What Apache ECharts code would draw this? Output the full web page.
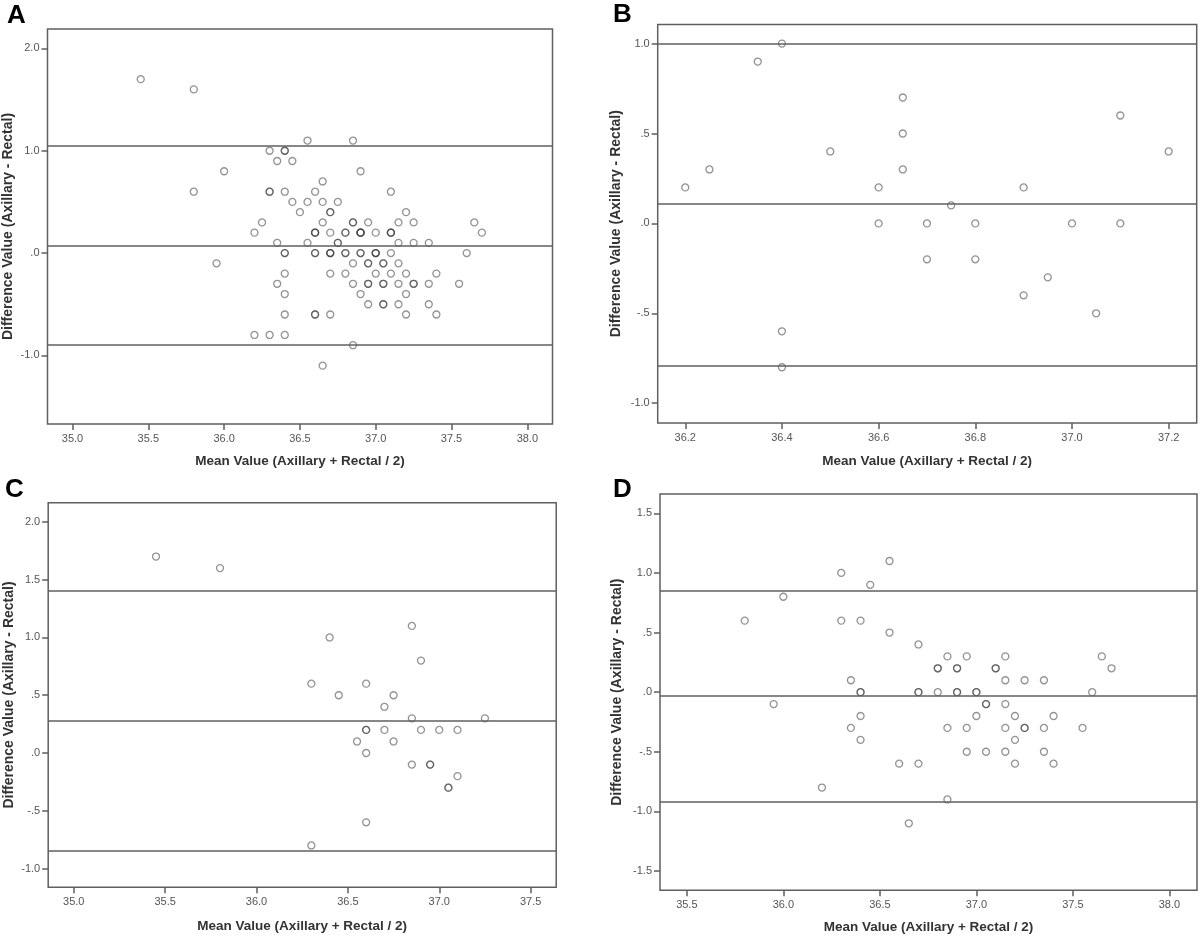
<!DOCTYPE html>
<html>
<head>
<meta charset="utf-8">
<script src="https://cdn.jsdelivr.net/npm/echarts@6/dist/echarts.min.js"></script>
<style>
html,body{margin:0;padding:0;background:#fff;}
#chart{width:1200px;height:937px;}
</style>
</head>
<body>
<div id="chart"></div>
<script>
// ---- Panel B data ----
var bX = [36.2, 36.25, 36.35, 36.4, 36.4, 36.4, 36.5, 36.6, 36.6, 36.65, 36.65, 36.65, 36.7, 36.7, 36.75, 36.8, 36.8, 36.9, 36.9, 36.95, 37.0, 37.05, 37.1, 37.1, 37.2];
var bY = [0.2, 0.3, 0.9, 1.0, -0.6, -0.8, 0.4, 0.2, 0.0, 0.7, 0.5, 0.3, 0.0, -0.2, 0.1, 0.0, -0.2, 0.2, -0.4, -0.3, 0.0, -0.5, 0.6, 0.0, 0.4];
// ---- Panel C data ----
var cX = [35.45, 35.8, 36.4, 36.3, 36.45, 36.3, 36.6, 36.6, 36.6, 36.55, 36.6, 36.6, 36.7, 36.7, 36.75, 36.75, 36.85, 36.85, 36.85, 36.9, 36.9, 37.0, 36.95, 36.95, 37.05, 37.05, 37.1, 37.1, 37.25];
var cY = [1.7, 1.6, 1.0, 0.6, 0.5, -0.8, 0.6, 0.2, 0.2, 0.1, 0.0, -0.6, 0.4, 0.2, 0.5, 0.1, 1.1, 0.3, -0.1, 0.8, 0.2, 0.2, -0.1, -0.1, -0.3, -0.3, 0.2, -0.2, 0.3];
// ---- Panel D data ----
var dX = [35.8, 35.95, 36.0, 36.2, 36.3, 36.3, 36.35, 36.35, 36.4, 36.4, 36.4, 36.4, 36.4, 36.45, 36.55, 36.55, 36.6, 36.65, 36.7, 36.7, 36.7, 36.7, 36.8, 36.8, 36.8, 36.85, 36.85, 36.85, 36.9, 36.9, 36.9, 36.9, 36.95, 36.95, 36.95, 37.0, 37.0, 37.0, 37.05, 37.05, 37.05, 37.1, 37.1, 37.15, 37.15, 37.15, 37.15, 37.15, 37.2, 37.2, 37.2, 37.25, 37.25, 37.25, 37.35, 37.35, 37.35, 37.4, 37.4, 37.55, 37.6, 37.65, 37.7];
var dY = [0.6, -0.1, 0.8, -0.8, 1.0, 0.6, 0.1, -0.3, 0.6, 0.0, 0.0, -0.2, -0.4, 0.9, 1.1, 0.5, -0.6, -1.1, 0.4, 0.0, 0.0, -0.6, 0.2, 0.2, 0.0, 0.3, -0.3, -0.9, 0.2, 0.2, 0.0, 0.0, 0.3, -0.3, -0.5, 0.0, 0.0, -0.2, -0.1, -0.1, -0.5, 0.2, 0.2, 0.3, 0.1, -0.1, -0.3, -0.5, -0.2, -0.4, -0.6, 0.1, -0.3, -0.3, 0.1, -0.3, -0.5, -0.2, -0.6, -0.3, 0.0, 0.3, 0.2];
// ---- Panel A: pooled sample (B + C + D) ----
var aX = bX.concat(cX, dX);
var aY = bY.concat(cY, dY);

// ---- Reference lines (upper limit, mean, lower limit) ----
var aLines = [1.05, 0.07, -0.90];
var bLines = [1.00, 0.112, -0.785];
var cLines = [1.40, 0.277, -0.848];
var dLines = [0.854, -0.034, -0.915];

// ---- Tick values ----
var aXTicks = [35.0, 35.5, 36.0, 36.5, 37.0, 37.5, 38.0];
var aYTicks = [-1.0, 0.0, 1.0, 2.0];
var bXTicks = [36.2, 36.4, 36.6, 36.8, 37.0, 37.2];
var bYTicks = [-1.0, -0.5, 0.0, 0.5, 1.0];
var cXTicks = [35.0, 35.5, 36.0, 36.5, 37.0, 37.5];
var cYTicks = [-1.0, -0.5, 0.0, 0.5, 1.0, 1.5, 2.0];
var dXTicks = [35.5, 36.0, 36.5, 37.0, 37.5, 38.0];
var dYTicks = [-1.5, -1.0, -0.5, 0.0, 0.5, 1.0, 1.5];

var panelLetters = ['A', 'B', 'C', 'D'];
var xTitle = 'Mean Value (Axillary + Rectal / 2)';
var yTitle = 'Difference Value (Axillary - Rectal)';

var FONT = '"Liberation Sans", Arial, sans-serif';
var AXC = '#5f5f5f';

function spssFmt(v) {
  return Number(v).toFixed(1).replace(/^(-?)0\./, '$1.');
}
function xFmt(v) { return Number(v).toFixed(1); }

function makeX(idx, min, max, ticks, gap) {
  return {
    gridIndex: idx, type: 'value', min: min, max: max,
    name: xTitle, nameLocation: 'middle', nameGap: gap,
    nameTextStyle: {fontFamily: FONT, fontWeight: 'bold', fontSize: 13.5, color: '#333'},
    axisLine: {show: false, onZero: false},
    axisTick: {show: true, length: 6, customValues: ticks, lineStyle: {color: AXC, width: 1.5}},
    axisLabel: {customValues: ticks, formatter: xFmt, fontFamily: FONT, fontSize: 11, color: '#555', margin: 9},
    splitLine: {show: false}
  };
}
function makeY(idx, min, max, ticks, gap) {
  return {
    gridIndex: idx, type: 'value', min: min, max: max,
    name: yTitle, nameLocation: 'middle', nameGap: gap, nameRotate: 90,
    nameTextStyle: {fontFamily: FONT, fontWeight: 'bold', fontSize: 14, color: '#333'},
    axisLine: {show: false, onZero: false},
    axisTick: {show: true, length: 6, customValues: ticks, lineStyle: {color: AXC, width: 1.5}},
    axisLabel: {customValues: ticks, formatter: spssFmt, fontFamily: FONT, fontSize: 11, color: '#555', margin: 8},
    splitLine: {show: false}
  };
}
function makeSeries(idx, xs, ys, lines) {
  return {
    type: 'scatter', xAxisIndex: idx, yAxisIndex: idx,
    data: xs.map(function (v, i) { return [v, ys[i]]; }),
    symbol: 'circle', symbolSize: 7,
    itemStyle: {color: 'rgba(0,0,0,0)', borderColor: 'rgba(55,55,55,0.68)', borderWidth: 1.3},
    emphasis: {disabled: true},
    silent: true,
    markLine: {
      silent: true, symbol: ['none', 'none'], label: {show: false},
      lineStyle: {color: AXC, width: 1.5, type: 'solid'},
      emphasis: {disabled: true},
      data: lines.map(function (v) { return {yAxis: v}; })
    }
  };
}

var gridStyle = {show: true, borderColor: AXC, borderWidth: 1.5, containLabel: false};
var grids = [
  Object.assign({left: 47.5, top: 29, width: 505, height: 395}, gridStyle),
  Object.assign({left: 657.7, top: 24.5, width: 539, height: 398.5}, gridStyle),
  Object.assign({left: 48.2, top: 502.7, width: 508, height: 384.6}, gridStyle),
  Object.assign({left: 660, top: 494, width: 537, height: 396.3}, gridStyle)
];

var letterPos = [[7, 15.5], [613, 14.5], [5, 490], [613, 490]];

var option = {
  animation: false,
  backgroundColor: '#fff',
  grid: grids,
  xAxis: [
    makeX(0, 34.835, 38.166, aXTicks, 30),
    makeX(1, 36.143, 37.258, bXTicks, 31),
    makeX(2, 34.86, 37.64, cXTicks, 32),
    makeX(3, 35.361, 38.143, dXTicks, 30)
  ],
  yAxis: [
    makeY(0, -1.67, 2.19, aYTicks, 32.5),
    makeY(1, -1.11, 1.106, bYTicks, 34.5),
    makeY(2, -1.162, 2.166, cYTicks, 32),
    makeY(3, -1.662, 1.662, dYTicks, 36)
  ],
  series: [
    makeSeries(0, aX, aY, aLines),
    makeSeries(1, bX, bY, bLines),
    makeSeries(2, cX, cY, cLines),
    makeSeries(3, dX, dY, dLines)
  ],
  graphic: panelLetters.map(function (t, i) {
    return {
      type: 'text', x: letterPos[i][0], y: letterPos[i][1], silent: true,
      style: {text: t, font: 'bold 26px ' + FONT, fill: '#000', verticalAlign: 'middle', align: 'left'}
    };
  })
};

var chart = echarts.init(document.getElementById('chart'), null, {renderer: 'canvas'});
chart.setOption(option);
</script>
</body>
</html>
